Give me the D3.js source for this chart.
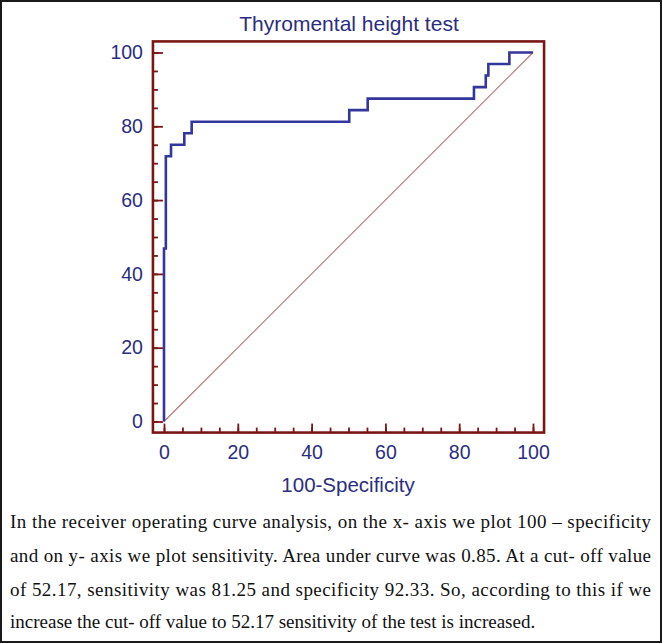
<!DOCTYPE html>
<html>
<head>
<meta charset="utf-8">
<script src="https://cdn.jsdelivr.net/npm/d3@7/dist/d3.min.js"></script>
<style>
  html, body { margin: 0; padding: 0; background: #fff; }
  svg { display: block; }
</style>
</head>
<body>
<script>
// ---- Data ----
const chartTitle = "Thyromental height test";
const xAxisTitle = "100-Specificity";
// ROC corner points (100 - specificity, sensitivity)
const fprValues  = [0, 0, 0.5, 1.9, 5.5, 7.5, 50.2, 55.2, 84.0, 87.2, 87.9, 93.6, 100];
const sensValues = [0, 46.875, 71.875, 75, 78.125, 81.25, 84.375, 87.5, 90.625, 93.75, 96.875, 100, 100];
// reference diagonal
const diagX = [0, 100];
const diagY = [0, 100];
const majorTicks = [0, 20, 40, 60, 80, 100];
const minorTicks = d3.range(0, 101, 5);
const captionLines = [
  "In the receiver operating curve analysis, on the x- axis we plot 100 \u2013 specificity",
  "and on y- axis we plot sensitivity. Area under curve was 0.85. At a cut- off value",
  "of 52.17, sensitivity was 81.25 and specificity 92.33. So, according to this if we",
  "increase the cut- off value to 52.17 sensitivity of the test is increased."
];

// ---- Layout ----
const W = 662, H = 643;
const navy = "#2b2d80", frameCol = "#7a1616", curveCol = "#33369a", diagCol = "#b87474";

const svg = d3.select("body").append("svg").attr("width", W).attr("height", H);

// outer border
svg.append("rect").attr("x", 1).attr("y", 1).attr("width", W - 2).attr("height", H - 2)
  .attr("fill", "#fff").attr("stroke", "#1a1a1a").attr("stroke-width", 2);

const x = d3.scaleLinear().domain([0, 100]).range([164, 533]);
const y = d3.scaleLinear().domain([0, 100]).range([421.5, 52.5]);

// title
svg.append("text").attr("x", 349).attr("y", 31).attr("text-anchor", "middle")
  .attr("font-family", "'Liberation Sans', Arial, sans-serif").attr("font-size", 21)
  .attr("fill", navy).text(chartTitle);

// diagonal
svg.append("line")
  .attr("x1", x(diagX[0])).attr("y1", y(diagY[0]))
  .attr("x2", x(diagX[1])).attr("y2", y(diagY[1]))
  .attr("stroke", diagCol).attr("stroke-width", 1.1);

// ROC curve
const pts = fprValues.map((v, i) => [v, sensValues[i]]);
svg.append("path").datum(pts)
  .attr("d", d3.line().x(d => x(d[0])).y(d => y(d[1])).curve(d3.curveStepAfter))
  .attr("fill", "none").attr("stroke", curveCol).attr("stroke-width", 2.6)
  .attr("stroke-linejoin", "miter");

// frame
const fx0 = x(-3), fx1 = x(103), fy0 = y(103), fy1 = y(-3);
svg.append("rect").attr("x", fx0).attr("y", fy0).attr("width", fx1 - fx0).attr("height", fy1 - fy0)
  .attr("fill", "none").attr("stroke", frameCol).attr("stroke-width", 2.6);

const fontAxis = "'Liberation Sans', Arial, sans-serif";

// left axis: minor ticks
const yMinor = svg.append("g").attr("transform", `translate(${fx0},0)`)
  .call(d3.axisLeft(y).tickValues(minorTicks).tickSize(-5).tickFormat(""));
// left axis: major ticks + labels
const yMajor = svg.append("g").attr("transform", `translate(${fx0},0)`)
  .call(d3.axisLeft(y).tickValues(majorTicks).tickSize(-10).tickPadding(10));
// bottom axis: minor ticks
const xMinor = svg.append("g").attr("transform", `translate(0,${fy1})`)
  .call(d3.axisBottom(x).tickValues(minorTicks).tickSize(-5).tickFormat(""));
const xMajor = svg.append("g").attr("transform", `translate(0,${fy1})`)
  .call(d3.axisBottom(x).tickValues(majorTicks).tickSize(-9).tickPadding(13));

[yMinor, yMajor, xMinor, xMajor].forEach(g => {
  g.select(".domain").remove();
  g.selectAll(".tick line").attr("stroke", frameCol).attr("stroke-width", 1.8);
  g.selectAll(".tick text").attr("fill", navy).attr("font-family", fontAxis).attr("font-size", 19.5);
});

// x-axis title
svg.append("text").attr("x", 348).attr("y", 492).attr("text-anchor", "middle")
  .attr("font-family", fontAxis).attr("font-size", 20.5)
  .attr("fill", navy).text(xAxisTitle);

// caption
const capBase = [528, 562, 596, 628];
captionLines.forEach((line, i) => {
  const t = svg.append("text").attr("x", 10).attr("y", capBase[i])
    .attr("font-family", "'Liberation Serif', 'Times New Roman', serif").attr("font-size", 19)
    .attr("fill", "#111").text(line);
  if (i < captionLines.length - 1) {
    t.attr("textLength", 641).attr("lengthAdjust", "spacing");
  }
});
</script>
</body>
</html>
